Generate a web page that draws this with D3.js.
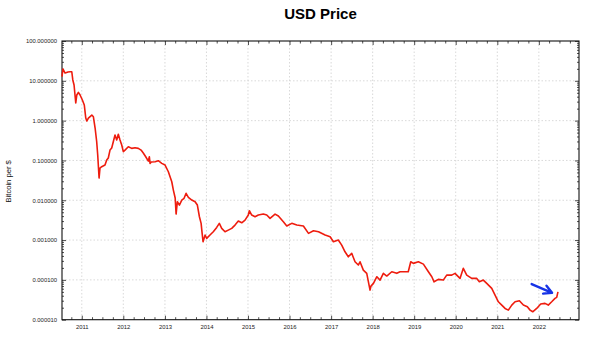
<!DOCTYPE html>
<html><head><meta charset="utf-8">
<script src="https://cdn.jsdelivr.net/npm/d3@7"></script>
<style>body{margin:0;background:#fff}svg{display:block;font-family:"Liberation Sans",Arial,sans-serif}</style>
</head><body><svg id="c" width="600" height="338"></svg>
<script>
const dates = [
"2010-07-11","2010-07-19","2010-08-07","2010-09-02","2010-09-20","2010-10-05","2010-10-14","2010-10-25","2010-11-09","2010-11-18","2010-12-02","2010-12-17",
"2011-01-06","2011-01-23","2011-02-05","2011-02-14","2011-02-28","2011-03-30","2011-04-13","2011-04-28","2011-05-12","2011-05-21","2011-06-02","2011-06-10","2011-06-25","2011-07-24","2011-08-08","2011-08-22","2011-09-06","2011-09-21","2011-10-05","2011-10-20","2011-11-04","2011-11-18","2011-12-03","2011-12-18",
"2012-01-01","2012-01-16","2012-02-14","2012-03-15","2012-04-13","2012-05-12","2012-06-05","2012-06-26","2012-07-16","2012-08-08","2012-08-17","2012-08-23","2012-09-03","2012-10-06","2012-11-04","2012-12-04",
"2013-01-02","2013-01-31","2013-03-02","2013-03-16","2013-04-01","2013-04-09","2013-04-20","2013-05-08","2013-05-29","2013-06-18","2013-07-06","2013-07-26","2013-08-25","2013-09-23","2013-10-13","2013-10-31","2013-11-15","2013-11-24","2013-12-02","2013-12-20",
"2014-01-03","2014-02-01","2014-03-02","2014-04-01","2014-04-24","2014-05-15","2014-06-13","2014-07-12","2014-08-11","2014-09-09","2014-10-08","2014-11-07","2014-12-06",
"2015-01-04","2015-01-13","2015-02-03","2015-03-04","2015-04-02","2015-05-16","2015-06-15","2015-07-14","2015-08-27","2015-09-25","2015-11-08","2015-12-08",
"2016-01-21","2016-03-05","2016-05-02","2016-06-16","2016-07-30","2016-09-12","2016-11-09","2016-12-23",
"2017-01-21","2017-03-05","2017-04-04","2017-05-03","2017-06-01","2017-07-01","2017-07-30","2017-08-28","2017-09-12","2017-10-11","2017-11-10","2017-12-09","2017-12-17",
"2018-01-08","2018-02-07","2018-03-07","2018-04-05","2018-05-05","2018-06-18","2018-08-01","2018-08-30","2018-10-13","2018-11-10","2018-12-02","2018-12-25",
"2019-02-07","2019-03-23","2019-05-06","2019-06-05","2019-06-25","2019-08-01","2019-09-14","2019-10-14","2019-11-27","2019-12-26",
"2020-02-08","2020-03-08","2020-04-07","2020-05-21","2020-07-04","2020-07-27","2020-08-31","2020-09-30","2020-11-13","2020-12-12",
"2021-01-10","2021-02-09","2021-03-10","2021-04-08","2021-05-08","2021-06-06","2021-07-14","2021-08-18","2021-09-22","2021-10-16","2021-11-08","2021-12-13",
"2022-01-17","2022-02-24","2022-03-25","2022-04-24","2022-05-23","2022-06-07","2022-06-18"];

const btcPerUsd = [
12.7,19.8,15.7,16.6,16.9,16.9,10.5,7.84,2.77,4.40,5.14,4.40,
3.29,2.47,1.16,0.977,1.16,1.38,1.25,0.652,0.295,0.137,0.0361,0.0644,0.0695,0.0766,0.102,0.115,0.182,0.205,0.295,0.435,0.326,0.453,0.326,0.244,
0.166,0.182,0.221,0.201,0.208,0.201,0.182,0.151,0.124,0.0966,0.124,0.0845,0.0912,0.0927,0.0983,0.0845,
0.0766,0.052,0.0292,0.018,0.0114,0.0045,0.00917,0.00757,0.0101,0.0112,0.0149,0.0118,0.0101,0.00917,0.00757,0.00385,0.00263,0.00147,0.000906,0.00134,
0.0011,0.00134,0.00162,0.00208,0.00263,0.00197,0.00162,0.00178,0.00197,0.00238,0.003,0.00272,0.00318,
0.00425,0.00545,0.00425,0.00385,0.00425,0.0045,0.00425,0.00351,0.0045,0.00401,0.00288,0.00225,
0.00263,0.00238,0.00225,0.00147,0.00171,0.00162,0.00134,0.00121,
0.000906,0.001,0.000748,0.000508,0.00038,0.000463,0.000285,0.000236,0.000285,0.000176,0.000146,0.0000555,0.0000698,
0.0000817,0.00012,0.0000989,0.000146,0.000125,0.00016,0.000146,0.00016,0.00016,0.00016,0.000285,0.00026,
0.000285,0.000249,0.00016,0.00012,0.0000895,0.000103,0.0000989,0.000132,0.000132,0.000146,
0.000109,0.000195,0.000132,0.000109,0.000109,0.0000895,0.0000989,0.0000817,0.0000611,0.0000415,
0.0000282,0.0000233,0.0000192,0.0000174,0.0000233,0.0000282,0.0000299,0.0000233,0.0000211,0.0000174,0.0000158,0.0000192,
0.0000247,0.0000257,0.0000233,0.0000282,0.0000343,0.0000363,0.0000502];

const yTickValues = [100, 10, 1, 0.1, 0.01, 0.001, 0.0001, 0.00001];
const yearTicks = ["2011","2012","2013","2014","2015","2016","2017","2018","2019","2020","2021","2022"];
const xDomain = ["2010-07-11","2022-12-20"];
const arrowDates = ["2021-10-30","2022-04-27"];
const arrowValues = [7.85e-5, 4.74e-5];
const title = "USD Price";
const yLabel = "Bitcoin per $";

const parse = d3.timeParse("%Y-%m-%d");
const data = dates.map((d,i)=>({date:parse(d), v:btcPerUsd[i]}));

const W=600,H=338, m={l:62,r:21,t:41,b:18.3};
const svg=d3.select("#c");
const x=d3.scaleTime().domain(xDomain.map(parse)).range([m.l,W-m.r]);
const y=d3.scaleLog().domain([1e-5,100]).range([H-m.b,m.t]);

// grid
const g=svg.append("g");
g.selectAll("line.h").data(yTickValues.slice(1,-1)).join("line")
 .attr("x1",m.l).attr("x2",W-m.r).attr("y1",d=>y(d)).attr("y2",d=>y(d))
 .attr("stroke","#cfcfcf").attr("stroke-width",0.8).attr("stroke-dasharray","1.5,2");
const yearDates=yearTicks.map(s=>parse(s+"-01-01"));
g.selectAll("line.v").data(yearDates).join("line")
 .attr("x1",d=>x(d)).attr("x2",d=>x(d)).attr("y1",m.t).attr("y2",H-m.b)
 .attr("stroke","#cfcfcf").attr("stroke-width",0.8).attr("stroke-dasharray","1.5,2");

// minor ticks values
const minorY=[];
for(let e=-5;e<2;e++) for(let k=2;k<=9;k++) minorY.push(k*Math.pow(10,e));
const quarters=d3.timeMonth.every(3).range(x.domain()[0],x.domain()[1]).filter(d=>d.getMonth()!==0);

function styleAxis(sel){sel.select(".domain").remove();sel.selectAll("line").attr("stroke","#222").attr("stroke-width",0.8);}

// left
svg.append("g").attr("transform",`translate(${m.l},0)`)
 .call(d3.axisLeft(y).tickValues(yTickValues).tickFormat(d3.format(".6f")).tickSize(-4).tickPadding(5))
 .call(styleAxis).call(s=>s.selectAll("text").attr("font-size",5.9).attr("fill","#222"));
svg.append("g").attr("transform",`translate(${m.l},0)`)
 .call(d3.axisLeft(y).tickValues(minorY).tickFormat("").tickSize(-2)).call(styleAxis);
// right
svg.append("g").attr("transform",`translate(${W-m.r},0)`)
 .call(d3.axisRight(y).tickValues(yTickValues).tickFormat("").tickSize(-4)).call(styleAxis);
svg.append("g").attr("transform",`translate(${W-m.r},0)`)
 .call(d3.axisRight(y).tickValues(minorY).tickFormat("").tickSize(-2)).call(styleAxis);
// bottom
svg.append("g").attr("transform",`translate(0,${H-m.b})`)
 .call(d3.axisBottom(x).tickValues(yearDates).tickFormat(d3.timeFormat("%Y")).tickSize(-4).tickPadding(5))
 .call(styleAxis).call(s=>s.selectAll("text").attr("font-size",5.9).attr("fill","#222"));
svg.append("g").attr("transform",`translate(0,${H-m.b})`)
 .call(d3.axisBottom(x).tickValues(quarters).tickFormat("").tickSize(-2.5)).call(styleAxis);
// top
svg.append("g").attr("transform",`translate(0,${m.t})`)
 .call(d3.axisTop(x).tickValues(yearDates).tickFormat("").tickSize(-4)).call(styleAxis);
svg.append("g").attr("transform",`translate(0,${m.t})`)
 .call(d3.axisTop(x).tickValues(quarters).tickFormat("").tickSize(-2.5)).call(styleAxis);

// frame
svg.append("rect").attr("x",m.l).attr("y",m.t).attr("width",W-m.r-m.l).attr("height",H-m.b-m.t)
 .attr("fill","none").attr("stroke","#111").attr("stroke-width",1.1);

// line
svg.append("path").datum(data).attr("fill","none").attr("stroke","#ee1c0e").attr("stroke-width",1.6)
 .attr("stroke-linejoin","round")
 .attr("d",d3.line().x(d=>x(d.date)).y(d=>y(d.v)));

// arrow
const ax0=x(parse(arrowDates[0])),ay0=y(arrowValues[0]),ax1=x(parse(arrowDates[1])),ay1=y(arrowValues[1]);
const ang=Math.atan2(ay1-ay0,ax1-ax0), hl=9, ha=0.5;
svg.append("path").attr("fill","none").attr("stroke","#1733e6").attr("stroke-width",2.4).attr("stroke-linecap","round").attr("stroke-linejoin","round")
 .attr("d",`M${ax0},${ay0}L${ax1},${ay1}M${ax1-hl*Math.cos(ang-ha)},${ay1-hl*Math.sin(ang-ha)}L${ax1},${ay1}L${ax1-hl*Math.cos(ang+ha)},${ay1-hl*Math.sin(ang+ha)}`);

// title & label
svg.append("text").attr("x",(m.l+W-m.r)/2).attr("y",19).attr("text-anchor","middle")
 .attr("font-size",15).attr("font-weight","bold").attr("fill","#000").text(title);
svg.append("text").attr("transform",`translate(11,${(m.t+H-m.b)/2+1}) rotate(-90)`).attr("text-anchor","middle")
 .attr("font-size",7.6).attr("fill","#111").text(yLabel);
</script></body></html>
